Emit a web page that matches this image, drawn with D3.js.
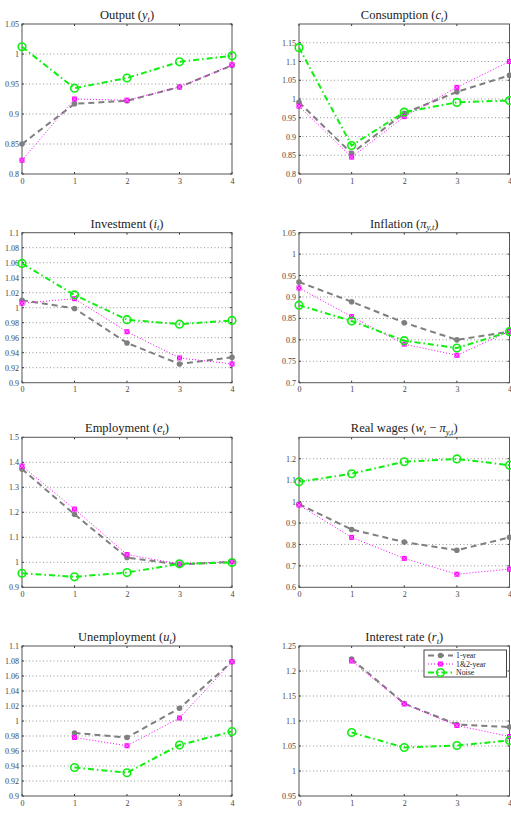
<!DOCTYPE html>
<html>
<head>
<meta charset="utf-8">
<script src="https://cdn.jsdelivr.net/npm/d3@7"></script>
<style>
  body { margin: 0; background: #fff; }
  svg { display: block; }
</style>
</head>
<body>
<div id="chart"></div>
<script>
const horizons = [0, 1, 2, 3, 4];
const seriesNames = ['1-year', '1&2-year', 'Noise'];

const output1y = [0.850, 0.917, 0.922, 0.945, 0.981];
const output12y = [0.823, 0.925, 0.923, 0.945, 0.982];
const outputNoise = [1.012, 0.943, 0.960, 0.987, 0.997];

const consumption1y = [0.991, 0.855, 0.962, 1.019, 1.063];
const consumption12y = [0.981, 0.845, 0.953, 1.031, 1.100];
const consumptionNoise = [1.137, 0.876, 0.965, 0.991, 0.996];

const investment1y = [1.010, 0.999, 0.953, 0.925, 0.934];
const investment12y = [1.006, 1.012, 0.968, 0.933, 0.925];
const investmentNoise = [1.059, 1.017, 0.984, 0.978, 0.983];

const inflation1y = [0.935, 0.889, 0.840, 0.800, 0.819];
const inflation12y = [0.921, 0.854, 0.790, 0.764, 0.820];
const inflationNoise = [0.881, 0.844, 0.798, 0.781, 0.819];

const employment1y = [1.373, 1.192, 1.019, 0.991, 1.002];
const employment12y = [1.385, 1.213, 1.031, 0.993, 1.003];
const employmentNoise = [0.956, 0.942, 0.959, 0.994, 0.999];

const wages1y = [0.988, 0.870, 0.811, 0.773, 0.833];
const wages12y = [0.984, 0.833, 0.735, 0.661, 0.685];
const wagesNoise = [1.092, 1.130, 1.186, 1.199, 1.170];

const unemployment1y = [null, 0.984, 0.978, 1.017, 1.079];
const unemployment12y = [null, 0.978, 0.967, 1.004, 1.079];
const unemploymentNoise = [null, 0.938, 0.931, 0.968, 0.986];

const interest1y = [null, 1.224, 1.135, 1.093, 1.088];
const interest12y = [null, 1.220, 1.134, 1.091, 1.069];
const interestNoise = [null, 1.077, 1.047, 1.051, 1.061];

// y ticks per panel
const outputTicks = [0.8, 0.85, 0.9, 0.95, 1, 1.05];
const consumptionTicks = [0.8, 0.85, 0.9, 0.95, 1, 1.05, 1.1, 1.15];
const investmentTicks = [0.9, 0.92, 0.94, 0.96, 0.98, 1, 1.02, 1.04, 1.06, 1.08, 1.1];
const inflationTicks = [0.7, 0.75, 0.8, 0.85, 0.9, 0.95, 1, 1.05];
const employmentTicks = [0.9, 1, 1.1, 1.2, 1.3, 1.4, 1.5];
const wagesTicks = [0.6, 0.7, 0.8, 0.9, 1, 1.1, 1.2];
const unemploymentTicks = investmentTicks;
const interestTicks = [0.95, 1, 1.05, 1.1, 1.15, 1.2, 1.25];

const panels = [
    { title: [['Output (', ''], ['y', 'i'], ['t', 'sub'], [')', '']], domain: [0.8, 1.05], ticks: outputTicks,
      series: [output1y, output12y, outputNoise] },
    { title: [['Consumption (', ''], ['c', 'i'], ['t', 'sub'], [')', '']], domain: [0.8, 1.2], ticks: consumptionTicks,
      series: [consumption1y, consumption12y, consumptionNoise] },
    { title: [['Investment (', ''], ['i', 'i'], ['t', 'sub'], [')', '']], domain: [0.9, 1.1], ticks: investmentTicks,
      series: [investment1y, investment12y, investmentNoise] },
    { title: [['Inflation (', ''], ['π', 'i'], ['y,t', 'sub'], [')', '']], domain: [0.7, 1.05], ticks: inflationTicks,
      series: [inflation1y, inflation12y, inflationNoise] },
    { title: [['Employment (', ''], ['e', 'i'], ['t', 'sub'], [')', '']], domain: [0.9, 1.5], ticks: employmentTicks,
      series: [employment1y, employment12y, employmentNoise] },
    { title: [['Real wages (', ''], ['w', 'i'], ['t', 'sub'], [' − ', ''], ['π', 'i'], ['y,t', 'sub'], [')', '']], domain: [0.6, 1.3], ticks: wagesTicks,
      series: [wages1y, wages12y, wagesNoise] },
    { title: [['Unemployment (', ''], ['u', 'i'], ['t', 'sub'], [')', '']], domain: [0.9, 1.1], ticks: unemploymentTicks,
      series: [unemployment1y, unemployment12y, unemploymentNoise] },
    { title: [['Interest rate (', ''], ['r', 'i'], ['t', 'sub'], [')', '']], domain: [0.95, 1.25], ticks: interestTicks,
      series: [interest1y, interest12y, interestNoise], legend: true }
];

const width = 511;
const height = 818;
const colLeft = [22, 299];
const colRight = [232, 509.5];
const rowTop = [24, 232.7, 437.3, 646];
const plotH = 150;

const styles = [
    { color: '#7f7f7f', width: 2, dash: '6,4', marker: 'dot' },
    { color: '#ff00ff', width: 1, dash: '1,2', marker: 'square' },
    { color: '#11ee11', width: 2, dash: '6,3,1.5,3', marker: 'ring' }
];

const fmt = v => String(+v.toFixed(2));
const serif = "'Liberation Serif', 'DejaVu Serif', serif";

const svg = d3.select('#chart').append('svg')
    .attr('width', width)
    .attr('height', height);

function drawMarker(g, kind, color, cx, cy) {
    if (kind === 'dot') {
        g.append('circle').attr('cx', cx).attr('cy', cy).attr('r', 2.8)
            .attr('fill', color);
    } else if (kind === 'square') {
        g.append('rect').attr('x', cx - 2.5).attr('y', cy - 2.5)
            .attr('width', 5).attr('height', 5).attr('fill', color);
        g.append('path')
            .attr('d', `M${cx - 2},${cy - 2}L${cx + 2},${cy + 2}M${cx - 2},${cy + 2}L${cx + 2},${cy - 2}`)
            .attr('stroke', '#ffa8ff').attr('stroke-width', 0.7);
    } else {
        g.append('circle').attr('cx', cx).attr('cy', cy).attr('r', 3.8)
            .attr('fill', 'none').attr('stroke', color).attr('stroke-width', 1.6);
    }
}

panels.forEach((p, i) => {
    const col = i % 2;
    const row = Math.floor(i / 2);
    const x0 = colLeft[col], x1 = colRight[col];
    const top = rowTop[row], bottom = top + plotH;

    const x = d3.scaleLinear().domain([0, 4]).range([x0, x1]);
    const y = d3.scaleLinear().domain(p.domain).range([bottom, top]);

    const g = svg.append('g');

    // dotted horizontal grid
    g.append('g').selectAll('line')
        .data(p.ticks.filter(t => t > p.domain[0] + 1e-9 && t < p.domain[1] - 1e-9))
        .join('line')
        .attr('x1', x0).attr('x2', x1)
        .attr('y1', d => y(d)).attr('y2', d => y(d))
        .attr('stroke', '#777').attr('stroke-width', 0.8)
        .attr('stroke-dasharray', '1,2.5');

    // y axis labels, ticks drawn inward below
    const yAxis = g.append('g')
        .attr('transform', `translate(${x0},0)`)
        .call(d3.axisLeft(y).tickValues(p.ticks).tickFormat(fmt).tickSize(0).tickPadding(3));
    yAxis.select('.domain').remove();
    yAxis.selectAll('text').attr('font-family', serif).attr('font-size', 8).attr('fill', '#444');

    const xAxis = g.append('g')
        .attr('transform', `translate(0,${bottom})`)
        .call(d3.axisBottom(x).tickValues(horizons).tickFormat(d3.format('d')).tickSize(0).tickPadding(4));
    xAxis.select('.domain').remove();
    xAxis.selectAll('text').attr('font-family', serif).attr('font-size', 8).attr('fill', '#444');

    // inward ticks on all sides
    const tk = 2;
    horizons.forEach(h => {
        g.append('line').attr('x1', x(h)).attr('x2', x(h)).attr('y1', bottom).attr('y2', bottom - tk)
            .attr('stroke', '#333').attr('stroke-width', 1);
        g.append('line').attr('x1', x(h)).attr('x2', x(h)).attr('y1', top).attr('y2', top + tk)
            .attr('stroke', '#333').attr('stroke-width', 1);
    });
    p.ticks.forEach(t => {
        g.append('line').attr('x1', x0).attr('x2', x0 + tk).attr('y1', y(t)).attr('y2', y(t))
            .attr('stroke', '#333').attr('stroke-width', 1);
        g.append('line').attr('x1', x1).attr('x2', x1 - tk).attr('y1', y(t)).attr('y2', y(t))
            .attr('stroke', '#333').attr('stroke-width', 1);
    });

    // box
    g.append('rect')
        .attr('x', x0).attr('y', top)
        .attr('width', x1 - x0).attr('height', plotH)
        .attr('fill', 'none').attr('stroke', '#555').attr('stroke-width', 1);

    // title
    const title = g.append('text')
        .attr('x', (x0 + x1) / 2).attr('y', top - 5)
        .attr('text-anchor', 'middle')
        .attr('font-family', serif).attr('font-size', 12.5).attr('fill', '#222');
    let shifted = false;
    p.title.forEach(([txt, kind]) => {
        const ts = title.append('tspan').text(txt);
        if (kind === 'i') ts.attr('font-style', 'italic');
        if (kind === 'sub') {
            ts.attr('font-style', 'italic').attr('font-size', 8.5).attr('dy', 2.5);
            shifted = true;
        } else if (shifted) {
            ts.attr('dy', -2.5);
            shifted = false;
        }
    });

    // series
    p.series.forEach((vals, si) => {
        const st = styles[si];
        const pts = horizons.map((h, k) => ({ h, v: vals[k] })).filter(d => d.v != null);
        const line = d3.line().x(d => x(d.h)).y(d => y(d.v));
        g.append('path').datum(pts)
            .attr('d', line)
            .attr('fill', 'none')
            .attr('stroke', st.color)
            .attr('stroke-width', st.width)
            .attr('stroke-dasharray', st.dash);
        const mg = g.append('g');
        pts.forEach(d => drawMarker(mg, st.marker, st.color, x(d.h), y(d.v)));
    });

    if (p.legend) {
        const lx = 424, ly = 650, lw = 82.5, lh = 27;
        const lg = g.append('g');
        lg.append('rect').attr('x', lx).attr('y', ly).attr('width', lw).attr('height', lh)
            .attr('fill', '#fff').attr('stroke', '#444').attr('stroke-width', 1);
        seriesNames.forEach((name, si) => {
            const st = styles[si];
            const cy = ly + 5.5 + si * 8.5;
            lg.append('line').attr('x1', lx + 4).attr('x2', lx + 29).attr('y1', cy).attr('y2', cy)
                .attr('stroke', st.color).attr('stroke-width', st.width).attr('stroke-dasharray', st.dash);
            drawMarker(lg, st.marker, st.color, lx + 16.5, cy);
            lg.append('text').attr('x', lx + 32).attr('y', cy + 2.6)
                .attr('font-family', serif).attr('font-size', 7.8).attr('fill', '#222')
                .text(name);
        });
    }
});
</script>
</body>
</html>
